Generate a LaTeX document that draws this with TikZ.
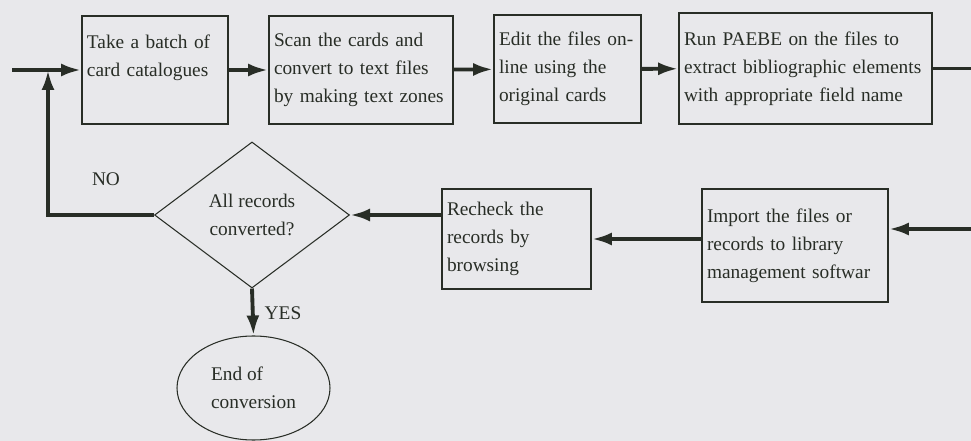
\documentclass[tikz,border=0pt]{standalone}
\usepackage{fontspec}
\setmainfont{Liberation Serif}
\usepackage{xcolor}
\usetikzlibrary{shapes.geometric,arrows.meta}
\definecolor{ink}{RGB}{40,45,38}
\definecolor{paper}{RGB}{232,232,235}
\begin{document}
\begin{tikzpicture}[x=0.2mm,y=-0.2mm,
  every node/.style={font=\fontsize{11}{16}\selectfont, text=ink},
  box/.style={draw=ink, line width=1pt, align=left, inner sep=0.1cm},
  arr/.style={draw=ink, line width=2.2pt, -{Latex[length=4mm,width=2.6mm]}},
  plain/.style={draw=ink, line width=2.2pt}]
\fill[paper](0,0) rectangle (971,441);
\useasboundingbox (0,0) rectangle (971,441);
\node[box, text width=2.72cm, minimum height=2.16cm] (take) at (155,70) {Take a batch of\\card catalogues\\\mbox{}};
\node[box, text width=3.48cm, minimum height=2.16cm] (scan) at (361,70) {Scan the cards and\\convert to text files\\by making text zones};
\node[box, text width=2.74cm, minimum height=2.16cm] (edit) at (567.5,69) {Edit the files on-\\line using the\\original cards};
\node[box, text width=4.86cm, minimum height=2.22cm] (paebe) at (805.5,68.5) {Run PAEBE on the files to\\extract bibliographic elements\\with appropriate field name};
\node[box, text width=3.52cm, minimum height=2.26cm] (import) at (795,245.5) {Import the files or\\records to library\\management softwar};
\node[box, text width=2.78cm, minimum height=2cm] (recheck) at (516.5,239) {Recheck the\\records by\\browsing};
\node[draw=ink, line width=0.6pt, diamond, minimum width=3.9cm, minimum height=2.92cm, inner sep=0pt, align=center] (check) at (252,215) {All records\\converted?};
\node[draw=ink, line width=0.6pt, ellipse, minimum width=3.06cm, minimum height=2.08cm, align=left] (end) at (253.5,388) {End of\\conversion};
\node (no) at (106,179) {NO};
\node (yes) at (283,313) {YES};
\coordinate (start) at (12,70);
\coordinate (loop) at (48,70);
\coordinate (outR) at (971,62);
\coordinate (inR) at (971,229);
\draw[arr](start) -- (take.west);
\foreach \a/\b in {take/scan,scan/edit,edit/paebe}{\draw[arr](\a) -- (\b);}
\draw[plain](paebe.east) -- (paebe.east -| outR);
\draw[arr](inR) -- (inR -| import.east);
\draw[arr](recheck.east -| import.west) -- (recheck.east);
\draw[arr](recheck.west |- check.east) -- (check.east);
\draw[arr](check.west) -| (loop);
\draw[arr](check.south) -- (end.north);
\end{tikzpicture}
\end{document}
